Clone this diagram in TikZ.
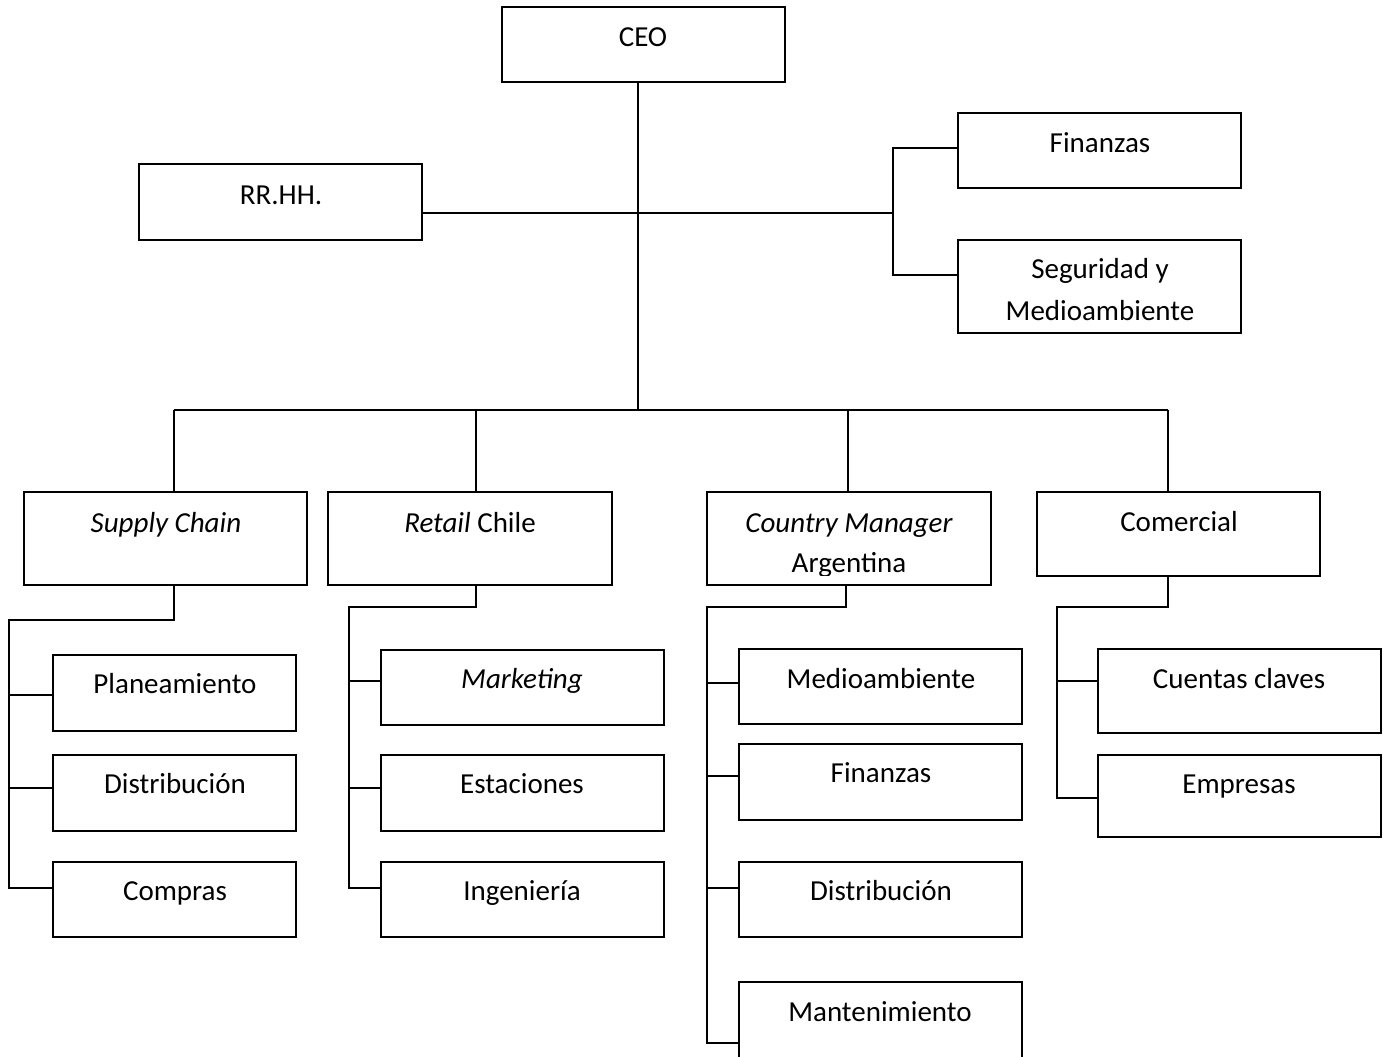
\documentclass[tikz,border=0pt]{standalone}
\usepackage{fontspec}
\setmainfont{Carlito}
\newcommand\orgbox[5]{\node[box, minimum width={(#4-#2)*1pt}, minimum height={(#5-#3)*1pt}] (#1) at ({(#2+#4)/2},{(#3+#5)/2}) {};}
\newcommand\branch[3]{\draw[ln] (#1,#2) coordinate (tmp) -- (tmp -| #3.west);}
\begin{document}
\begin{tikzpicture}[x=1pt,y=-1pt,
  box/.style={draw, line width=1.6pt, inner sep=0pt, fill=none},
  lbl/.style={inner sep=0pt, font=\fontsize{29}{34}\selectfont, anchor=base},
  ln/.style={line width=1.6pt}]
\useasboundingbox (0,0) rectangle (1385,1057);
\clip (0,0) rectangle (1385,1057);
\fill[white] (0,0) rectangle (1385,1057);

% boxes
\orgbox{ceo}{502}{7}{785}{82}
\orgbox{rrhh}{139}{164}{422}{240}
\orgbox{fin}{958}{113}{1241}{188}
\orgbox{seg}{958}{240}{1241}{333}
\orgbox{sc}{24}{492}{307}{585}
\orgbox{rc}{328}{492}{612}{585}
\orgbox{cm}{707}{492}{991}{585}
\orgbox{com}{1037}{492}{1320}{576}
\orgbox{pla}{53}{655}{296}{731}
\orgbox{dis}{53}{755}{296}{831}
\orgbox{cpr}{53}{862}{296}{937}
\orgbox{mkt}{381}{650}{664}{725}
\orgbox{est}{381}{755}{664}{831}
\orgbox{ing}{381}{862}{664}{937}
\orgbox{med}{739}{649}{1022}{724}
\orgbox{fin2}{739}{744}{1022}{820}
\orgbox{dis2}{739}{862}{1022}{937}
\orgbox{man}{739}{982}{1022}{1070}
\orgbox{cue}{1098}{649}{1381}{733}
\orgbox{emp}{1098}{755}{1381}{837}

% labels
\node[lbl] (tceo) at (643,47) {CEO};
\node[lbl] (trrhh) at (281,204) {RR.HH.};
\node[lbl] (tfin) at (1100,152) {Finanzas};
\node[lbl] (tseg1) at (1100,278) {Seguridad y};
\node[lbl] (tseg2) at (1100,320) {Medioambiente};
\node[lbl] (tsc) at (166,532) {\itshape Supply Chain};
\node[lbl] (trc) at (470,532) {\itshape Retail\upshape{} Chile};
\node[lbl] (tcm1) at (849,532) {\itshape Country Manager};
\begin{scope}
\clip (700,540) rectangle (1000,575);
\node[lbl] (tcm2) at (849,572) {Argentina};
\end{scope}
\node[lbl] (tcom) at (1179,531) {Comercial};
\node[lbl] (tpla) at (175,693) {Planeamiento};
\node[lbl] (tdis) at (175,793) {Distribución};
\node[lbl] (tcpr) at (175,900) {Compras};
\node[lbl] (tmkt) at (522,688) {\itshape Marketing};
\node[lbl] (test) at (522,793) {Estaciones};
\node[lbl] (ting) at (522,900) {Ingeniería};
\node[lbl] (tmed) at (881,688) {Medioambiente};
\node[lbl] (tfin2) at (881,782) {Finanzas};
\node[lbl] (tdis2) at (881,900) {Distribución};
\node[lbl] (tman) at (880,1021) {Mantenimiento};
\node[lbl] (tcue) at (1239,688) {Cuentas claves};
\node[lbl] (temp) at (1239,793) {Empresas};

% top connectors
\coordinate (jT) at (638,410);
\coordinate (jR) at (893,213);
\coordinate (jF) at (893,148);
\coordinate (jS) at (893,275);
\draw[ln] (ceo.south -| jT) -- (jT);
\draw[ln] (rrhh.east |- jR) -- (jR);
\draw[ln] (jF -| fin.west) -- (jF) -- (jS) -- (jS -| seg.west);
\coordinate (h1) at (174,410);
\coordinate (h2) at (476,410);
\coordinate (h3) at (848,410);
\coordinate (h4) at (1168,410);
\draw[ln] (h1) -- (h4);
\draw[ln] (h1) -- (sc.north -| h1);
\draw[ln] (h2) -- (rc.north -| h2);
\draw[ln] (h3) -- (cm.north -| h3);
\draw[ln] (h4) -- (com.north -| h4);

% Supply Chain
\coordinate (a1) at (174,620);
\coordinate (a2) at (9,620);
\draw[ln] (sc.south -| a1) -- (a1) -- (a2) -- (9,888) -- (9,888 -| cpr.west);
\branch{9}{695}{pla}
\branch{9}{788}{dis}

% Retail Chile
\coordinate (b1) at (476,607);
\coordinate (b2) at (349,607);
\draw[ln] (rc.south -| b1) -- (b1) -- (b2) -- (349,888) -- (349,888 -| ing.west);
\branch{349}{681}{mkt}
\branch{349}{788}{est}

% Country Manager
\coordinate (c1) at (846,607);
\coordinate (c2) at (707,607);
\draw[ln] (cm.south -| c1) -- (c1) -- (c2) -- (707,1043) -- (707,1043 -| man.west);
\branch{707}{683}{med}
\branch{707}{776}{fin2}
\branch{707}{888}{dis2}

% Comercial
\coordinate (d1) at (1168,607);
\coordinate (d2) at (1057,607);
\draw[ln] (com.south -| d1) -- (d1) -- (d2) -- (1057,798) -- (1057,798 -| emp.west);
\branch{1057}{681}{cue}
\end{tikzpicture}
\end{document}
